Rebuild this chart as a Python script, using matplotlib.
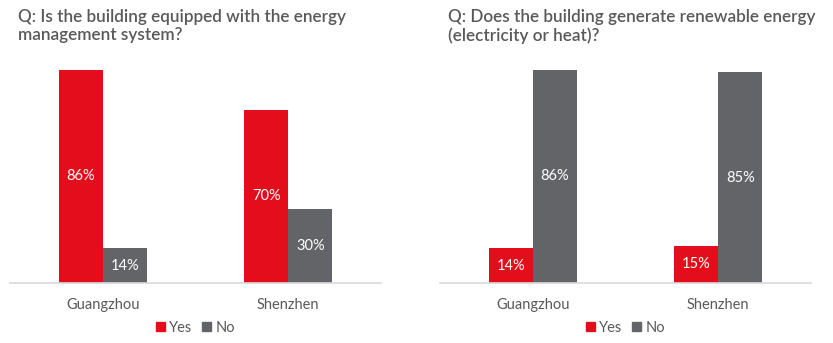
import matplotlib
matplotlib.use("Agg")
import matplotlib.pyplot as plt
from matplotlib.patches import Patch

plt.rcParams['font.family'] = ['Lato', 'DejaVu Sans']

cities = ["Guangzhou", "Shenzhen"]
series = ["Yes", "No"]
ems_yes = [86, 70]
ems_no = [14, 30]
renew_yes = [14, 15]
renew_no = [86, 85]
titles = [
    "Q: Is the building equipped with the energy\nmanagement system?",
    "Q: Does the building generate renewable energy\n(electricity or heat)?",
]

RED = "#E30D1B"
GREY = "#636468"
TEXT = "#595959"

W, H = 833, 343
fig = plt.figure(figsize=(W / 100, H / 100), dpi=100)

panels = [(ems_yes, ems_no, 10, 381, 18), (renew_yes, renew_no, 440, 811, 448)]
bar_w = 0.238
for (yes, no, x0, x1, tx), title in zip(panels, titles):
    ax = fig.add_axes([x0 / W, (H - 283) / H, (x1 - x0) / W, (283 - 62) / H])
    xs = range(len(cities))
    for vals, color, off in ((yes, RED, -bar_w / 2), (no, GREY, bar_w / 2)):
        bars = ax.bar([x + off for x in xs], vals, width=bar_w, color=color)
        for b, v in zip(bars, vals):
            ax.text(b.get_x() + b.get_width() / 2, v / 2, f"{v}%", ha="center",
                    va="center", color="white", fontsize=10.5)
    ax.set_xlim(-0.5, 1.5)
    ax.set_ylim(0, 89.2)
    for s in ("top", "right", "left"):
        ax.spines[s].set_visible(False)
    ax.spines["bottom"].set_color("#D9D9D9")
    ax.spines["bottom"].set_linewidth(1.2)
    ax.set_yticks([])
    ax.set_xticks(list(xs))
    ax.set_xticklabels(cities, color=TEXT, fontsize=10.5)
    ax.tick_params(axis="x", length=0, pad=11)
    fig.text(tx / W, 1 - 9 / H, title, ha="left", va="top", color=TEXT,
             fontsize=12.35, fontweight=600, linespacing=1.15)
    handles = [Patch(color=RED, label=series[0]), Patch(color=GREY, label=series[1])]
    fig.legend(handles=handles, loc="center", ncol=2, frameon=False,
               bbox_to_anchor=((x0 + x1) / 2 / W, 1 - 328 / H), fontsize=10.5,
               handlelength=0.6, handleheight=0.6, handletextpad=0.3,
               columnspacing=0.7, labelcolor=TEXT)

fig.savefig("out.png", dpi=100)
